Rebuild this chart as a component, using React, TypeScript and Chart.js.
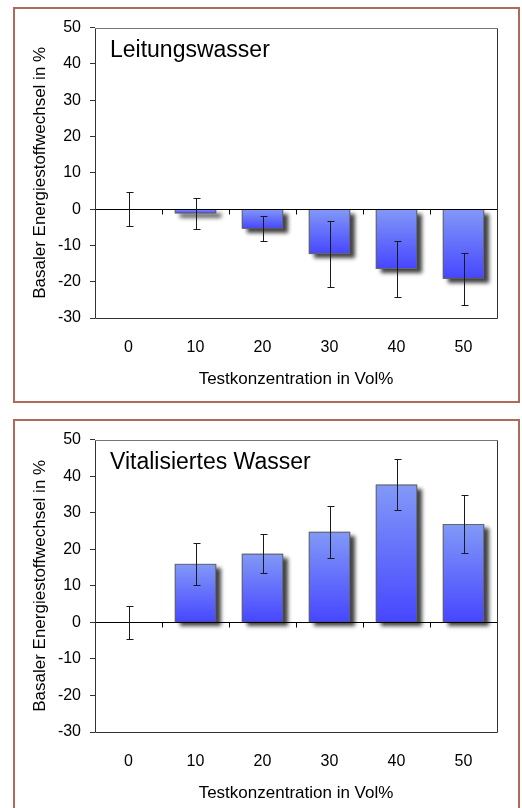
import React, { useEffect, useRef } from 'react';
import { Chart, registerables } from 'chart.js';

Chart.register(...registerables);

const categories = ['0', '10', '20', '30', '40', '50'];
const tapWaterMeans = [0, -1.2, -5.4, -12.4, -16.5, -19.2];
const tapWaterErrors = [4.6, 4.2, 3.5, 9.1, 7.6, 7.2];
const vitalMeans = [0, 16, 18.8, 24.8, 37.7, 26.9];
const vitalErrors = [4.6, 5.8, 5.3, 7.1, 7.0, 8.0];
const yMin = -30;
const yMax = 50;
const yStep = 5;
const yLabelEvery = 10;
const xAxisTitle = 'Testkonzentration in Vol%';
const yAxisTitle = 'Basaler Energiestoffwechsel in %';
const titleTap = 'Leitungswasser';
const titleVital = 'Vitalisiertes Wasser';

const FONT = '"Liberation Sans", Arial, sans-serif';

type PanelProps = {
  title: string;
  means: number[];
  errors: number[];
  top: number;
  canvasHeight: number;
};

function makeDecor(title: string, errors: number[]) {
  return {
    id: 'decor',
    beforeDatasetsDraw(chart: any) {
      const ctx = chart.ctx;
      const meta = chart.getDatasetMeta(0);
      meta.data.forEach((el: any) => {
        const p = el.getProps(['x', 'y', 'base', 'width'], true);
        const h = Math.abs(p.base - p.y);
        if (h < 0.5) return;
        ctx.save();
        ctx.shadowColor = 'rgba(0,0,0,0.75)';
        ctx.shadowOffsetX = 5;
        ctx.shadowOffsetY = 4;
        ctx.shadowBlur = 4;
        ctx.fillStyle = '#555';
        ctx.fillRect(p.x - p.width / 2, Math.min(p.y, p.base), p.width, h);
        ctx.restore();
      });
    },
    afterDatasetsDraw(chart: any) {
      const ctx = chart.ctx;
      const { left, right, top, bottom } = chart.chartArea;
      const xs = chart.scales.x;
      const ys = chart.scales.y;
      const y0 = Math.round(ys.getPixelForValue(0)) + 0.5;
      ctx.save();
      ctx.strokeStyle = '#000';
      ctx.lineWidth = 1;
      ctx.beginPath();
      ctx.moveTo(left, y0);
      ctx.lineTo(right, y0);
      ctx.stroke();
      for (let i = 0; i < categories.length - 1; i++) {
        const bx = Math.round((xs.getPixelForValue(i) + xs.getPixelForValue(i + 1)) / 2) + 0.5;
        ctx.beginPath();
        ctx.moveTo(bx, y0);
        ctx.lineTo(bx, y0 + 5);
        ctx.stroke();
      }
      const ds = chart.data.datasets[0].data as number[];
      ctx.strokeStyle = '#1a1a1a';
      ds.forEach((v, i) => {
        const x = Math.round(xs.getPixelForValue(i)) + 0.5;
        const yt = Math.round(ys.getPixelForValue(v + errors[i])) + 0.5;
        const yb = Math.round(ys.getPixelForValue(v - errors[i])) + 0.5;
        ctx.beginPath();
        ctx.moveTo(x, yt);
        ctx.lineTo(x, yb);
        ctx.moveTo(x - 3, yt);
        ctx.lineTo(x + 4, yt);
        ctx.moveTo(x - 3, yb);
        ctx.lineTo(x + 4, yb);
        ctx.stroke();
      });
      const l = Math.round(left) + 0.5;
      const r = Math.round(right) + 0.5;
      const t = Math.round(top) + 0.5;
      const b = Math.round(bottom) + 0.5;
      ctx.strokeStyle = '#777';
      ctx.beginPath();
      ctx.moveTo(l, t);
      ctx.lineTo(r, t);
      ctx.stroke();
      ctx.strokeStyle = '#333';
      ctx.beginPath();
      ctx.moveTo(r, t);
      ctx.lineTo(r, b);
      ctx.lineTo(l, b);
      ctx.lineTo(l, t);
      ctx.stroke();
      ctx.fillStyle = '#000';
      ctx.font = `23px ${FONT}`;
      ctx.textAlign = 'left';
      ctx.textBaseline = 'alphabetic';
      ctx.fillText(title, left + 15, top + 29);
      ctx.restore();
    },
  };
}

function Panel({ title, means, errors, top, canvasHeight }: PanelProps) {
  const ref = useRef<HTMLCanvasElement>(null);
  useEffect(() => {
    const chart = new Chart(ref.current as HTMLCanvasElement, {
      type: 'bar',
      data: {
        labels: categories,
        datasets: [
          {
            data: means,
            backgroundColor: (c: any) => {
              const ch = c.chart;
              const ys = ch.scales && ch.scales.y;
              if (!ys || c.type !== 'data') return '#5a6cff';
              const v = c.raw as number;
              const p1 = ys.getPixelForValue(Math.max(v, 0));
              let p2 = ys.getPixelForValue(Math.min(v, 0));
              if (!isFinite(p1) || !isFinite(p2)) return '#5a6cff';
              if (Math.abs(p2 - p1) < 1) p2 = p1 + 1;
              const g = ch.ctx.createLinearGradient(0, p1, 0, p2);
              g.addColorStop(0, '#8299f7');
              g.addColorStop(1, '#4646ff');
              return g;
            },
            borderColor: '#666',
            borderWidth: (c: any) => (c.raw === 0 ? 0 : 1),
            barPercentage: 0.62,
            categoryPercentage: 1,
          },
        ],
      },
      options: {
        animation: false,
        responsive: false,
        maintainAspectRatio: false,
        layout: { padding: { top: 18, right: 21, left: 0, bottom: 0 } },
        plugins: {
          legend: { display: false },
          tooltip: { enabled: false },
          title: { display: false },
        },
        scales: {
          x: {
            grid: { display: false, drawTicks: false },
            border: { display: false },
            ticks: {
              font: { family: FONT, size: 16 },
              color: '#000',
              padding: 20,
              maxRotation: 0,
              autoSkip: false,
            },
            title: {
              display: true,
              text: xAxisTitle,
              font: { family: FONT, size: 17 },
              color: '#000',
              padding: { top: 0, bottom: 11 },
            },
            afterFit: (s: any) => {
              s.height = 83;
            },
          },
          y: {
            min: yMin,
            max: yMax,
            ticks: {
              stepSize: yStep,
              font: { family: FONT, size: 16 },
              color: '#000',
              padding: 9,
              callback: (v: any) => (Number(v) % yLabelEvery === 0 ? String(v) : ''),
            },
            grid: {
              drawOnChartArea: false,
              drawTicks: true,
              tickLength: 5,
              color: '#333',
            },
            border: { display: false },
            title: {
              display: true,
              text: yAxisTitle,
              font: { family: FONT, size: 17 },
              color: '#000',
              padding: { top: 15, bottom: 0 },
            },
            afterFit: (s: any) => {
              s.width = 80;
            },
          },
        },
      },
      plugins: [makeDecor(title, errors)],
    } as any);
    return () => chart.destroy();
  }, []);
  return (
    <div
      style={{
        position: 'absolute',
        left: 13,
        top,
        width: 507,
        height: canvasHeight + 4,
        boxSizing: 'border-box',
        border: '2px solid #b06a5a',
        background: '#fff',
      }}
    >
      <canvas ref={ref} width={503} height={canvasHeight} style={{ display: 'block' }} />
    </div>
  );
}

export default function App() {
  return (
    <div>
      <Panel title={titleTap} means={tapWaterMeans} errors={tapWaterErrors} top={7} canvasHeight={392} />
      <Panel title={titleVital} means={vitalMeans} errors={vitalErrors} top={419} canvasHeight={394} />
    </div>
  );
}
